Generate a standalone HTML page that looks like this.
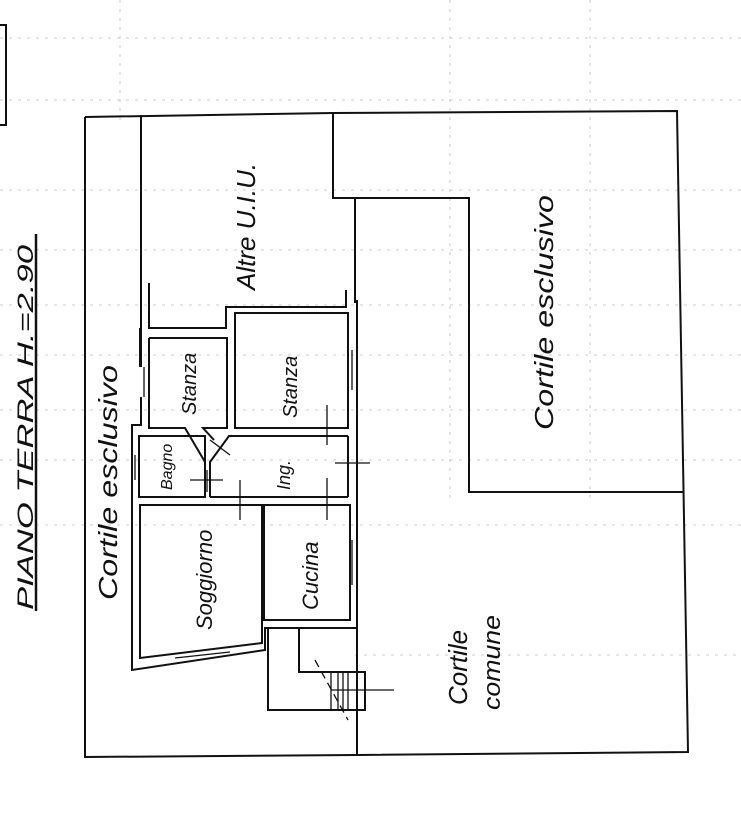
<!DOCTYPE html>
<html><head><meta charset="utf-8"><style>
html,body{margin:0;padding:0;background:#fff;}
svg{display:block;}
text{font-family:"Liberation Sans",sans-serif;font-style:italic;fill:#111;}
</style></head><body>
<svg width="741" height="839" viewBox="0 0 741 839" xmlns="http://www.w3.org/2000/svg">
<rect width="741" height="839" fill="#fff"/>
<g stroke="#ccc" stroke-width="1" stroke-dasharray="3,6" fill="none">
<line x1="0" y1="38" x2="741" y2="38"/><line x1="0" y1="100" x2="741" y2="100"/>
<line x1="0" y1="190" x2="741" y2="190"/><line x1="0" y1="250" x2="741" y2="250"/>
<line x1="0" y1="305" x2="741" y2="305"/><line x1="0" y1="355" x2="741" y2="355"/>
<line x1="0" y1="410" x2="741" y2="410"/><line x1="0" y1="460" x2="741" y2="460"/>
<line x1="0" y1="525" x2="741" y2="525"/><line x1="355" y1="655" x2="741" y2="655"/>
<line x1="450" y1="0" x2="450" y2="500"/><line x1="590" y1="0" x2="590" y2="500"/>
<line x1="120" y1="0" x2="120" y2="120"/>
</g>
<g stroke="#111" stroke-width="2" fill="none" stroke-linejoin="miter">
<polyline points="0,25 6,25 6,125 0,125"/>
<polyline points="85,117 333,113 677,111 688,752 357,755 85,757 85,117"/>
<line x1="141" y1="115" x2="141" y2="367"/>
<polyline points="149,283 149,328 226,328 226,307 346,307 346,290"/>
<polyline points="333,113 333,198 469,198 469,492 683,492"/>
<line x1="355" y1="198" x2="355" y2="303"/>
<polyline points="140,328 140,367"/>
<polyline points="141,397 141,425 132,425 132,670 265,650 265,628 357,628 357,300"/>
<polyline points="149,338 227,338 227,428 203,428 214,440"/>
<polyline points="149,338 149,428 185,428 205,462 205,497"/>
<rect x="235" y="313" width="113" height="115"/>
<polyline points="210,497 210,462 229,436 348,436"/>
<rect x="139" y="436" width="66" height="61"/>
<line x1="210" y1="497" x2="348" y2="497"/>
<line x1="348" y1="436" x2="348" y2="497"/>
<polygon points="140,505 262,505 262,643 140,658"/>
<rect x="264" y="505" width="86" height="115"/>
<polyline points="268,628 268,710 365,710 365,672 299,672 299,628"/>
<line x1="357" y1="628" x2="357" y2="755"/>
<g stroke-width="1.3">
<line x1="331" y1="672" x2="331" y2="710"/><line x1="338" y1="672" x2="338" y2="710"/>
<line x1="343" y1="672" x2="343" y2="710"/><line x1="348" y1="672" x2="348" y2="710"/>
<line x1="331" y1="690" x2="394" y2="690"/>
<line x1="315" y1="660" x2="348" y2="720" stroke-dasharray="8,5"/>
<line x1="144" y1="367" x2="144" y2="397"/><line x1="135" y1="455" x2="135" y2="480"/>
<line x1="352" y1="350" x2="352" y2="390"/><line x1="352" y1="540" x2="352" y2="585"/>
<line x1="175" y1="658" x2="230" y2="652"/>
<line x1="190" y1="480" x2="223" y2="480"/><line x1="207" y1="470" x2="207" y2="492"/>
<line x1="240" y1="480" x2="240" y2="520"/><line x1="327" y1="405" x2="327" y2="445"/>
<line x1="335" y1="463" x2="370" y2="463"/><line x1="327" y1="478" x2="327" y2="520"/>
<line x1="210" y1="440" x2="230" y2="455"/>
</g>
<line x1="36" y1="234" x2="36" y2="611" stroke-width="2.5"/>
</g>
<text transform="translate(33,610) rotate(-90)" font-size="22" font-style="normal" textLength="365" lengthAdjust="spacingAndGlyphs">PIANO TERRA H.=2.90</text>
<text transform="translate(117,600) rotate(-90)" font-size="26" textLength="235" lengthAdjust="spacingAndGlyphs">Cortile  esclusivo</text>
<text transform="translate(255,290) rotate(-90)" font-size="26">Altre U.I.U.</text>
<text transform="translate(553,430) rotate(-90)" font-size="26" textLength="235" lengthAdjust="spacingAndGlyphs">Cortile  esclusivo</text>
<text transform="translate(467,705) rotate(-90)" font-size="26">Cortile</text>
<text transform="translate(500,710) rotate(-90)" font-size="24" textLength="95" lengthAdjust="spacingAndGlyphs">comune</text>
<text transform="translate(196,415) rotate(-90)" font-size="20">Stanza</text>
<text transform="translate(297,418) rotate(-90)" font-size="20">Stanza</text>
<text transform="translate(172,490) rotate(-90)" font-size="16">Bagno</text>
<text transform="translate(290,490) rotate(-90)" font-size="18">Ing.</text>
<text transform="translate(212,630) rotate(-90)" font-size="22">Soggiorno</text>
<text transform="translate(318,610) rotate(-90)" font-size="22">Cucina</text>
</svg>
</body></html>
